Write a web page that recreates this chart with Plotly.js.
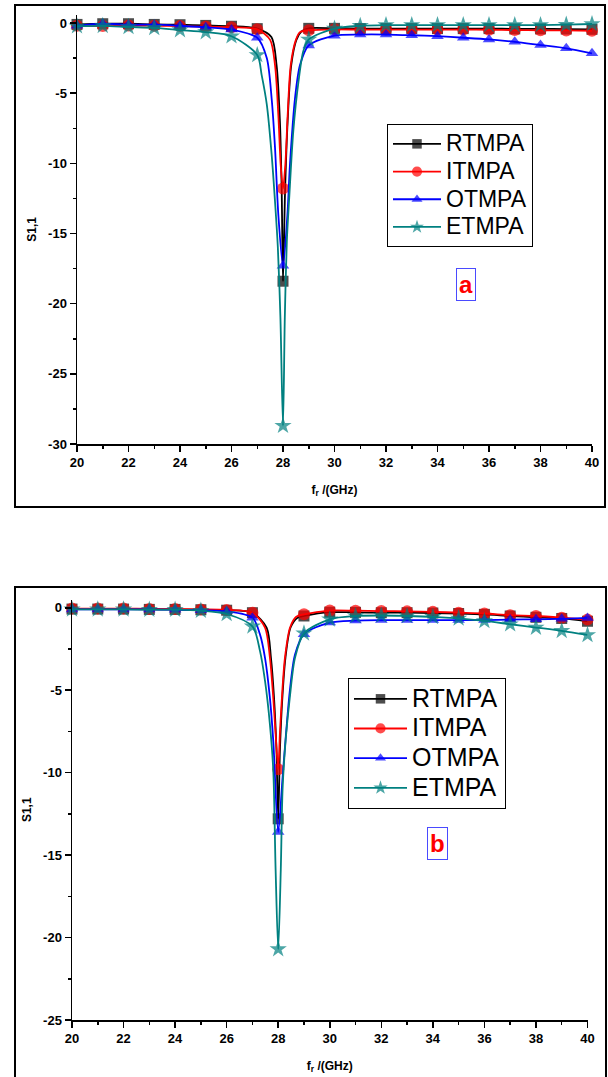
<!DOCTYPE html>
<html>
<head>
<meta charset="utf-8">
<script src="https://cdn.plot.ly/plotly-3.0.1.min.js"></script>
<style>html,body{margin:0;padding:0;background:#fff;}#chart{width:608px;height:1077px;}</style>
</head>
<body>
<div id="chart"></div>
<script>
// ---------- Data ----------
const seriesNames = ['RTMPA', 'ITMPA', 'OTMPA', 'ETMPA'];

// Panel a
const xRTMPA_a = [20,21,22,23,24,25,26,27,27.55,27.75,27.88,27.95,28,28.08,28.18,28.32,28.52,28.72,29,30,31,32,33,34,35,36,37,38,39,40];
const yRTMPA_a = [-0.1,-0.05,-0.05,-0.1,-0.12,-0.17,-0.23,-0.4,-1.0,-3.0,-7.0,-12.0,-18.4,-12.0,-7.0,-3.0,-1.2,-0.6,-0.38,-0.38,-0.4,-0.4,-0.4,-0.4,-0.4,-0.4,-0.42,-0.42,-0.43,-0.45];
const xITMPA_a = [20,21,22,23,24,25,26,27,27.5,27.69,27.82,27.91,28,28.09,28.18,28.3,28.5,28.66,29,30,31,32,33,34,35,36,37,38,39,40];
const yITMPA_a = [-0.2,-0.22,-0.18,-0.2,-0.22,-0.25,-0.3,-0.45,-1.2,-3.0,-6.6,-10.1,-11.8,-10.1,-6.6,-3.0,-1.2,-0.65,-0.52,-0.45,-0.47,-0.47,-0.47,-0.47,-0.47,-0.48,-0.5,-0.52,-0.53,-0.55];
const xOTMPA_a = [20,21,22,23,24,25,26,27,27.37,27.56,27.69,27.82,28,28.17,28.27,28.47,28.66,29,30,31,32,33,34,35,36,37,38,39,40];
const yOTMPA_a = [-0.2,-0.05,-0.12,-0.12,-0.2,-0.3,-0.47,-1.05,-2.5,-5.4,-8.9,-13.7,-17.3,-13.7,-10.1,-5.3,-3.0,-1.6,-0.9,-0.82,-0.82,-0.87,-0.94,-1.05,-1.17,-1.34,-1.57,-1.8,-2.16];
const xETMPA_a = [20,21,22,23,24,25,26,27,27.17,27.37,27.56,27.7,27.8,27.9,28,28.07,28.15,28.24,28.4,28.6,28.79,29,30,31,32,33,34,35,36,37,38,39,40];
const yETMPA_a = [-0.23,-0.2,-0.28,-0.35,-0.5,-0.65,-0.94,-2.28,-3.7,-5.8,-9.4,-13,-16,-21,-28.7,-21,-15.5,-12.5,-7.7,-4.2,-2.0,-1.17,-0.4,-0.2,-0.15,-0.15,-0.15,-0.15,-0.15,-0.15,-0.15,-0.12,-0.07];

// Panel b
const xRTMPA_b = [20,21,22,23,24,25,26,27,27.55,27.72,27.84,27.93,28,28.07,28.16,28.28,28.48,28.75,29,30,31,32,33,34,35,36,37,38,39,40];
const yRTMPA_b = [-0.08,-0.08,-0.08,-0.1,-0.1,-0.12,-0.15,-0.3,-1.2,-3.05,-5.5,-8.5,-12.8,-8.5,-5.5,-3.05,-1.2,-0.6,-0.5,-0.27,-0.28,-0.3,-0.3,-0.32,-0.35,-0.4,-0.5,-0.58,-0.65,-0.82];
const xITMPA_b = [20,21,22,23,24,25,26,27,27.49,27.68,27.81,27.91,28,28.07,28.16,28.26,28.46,28.7,29,30,31,32,33,34,35,36,37,38,39,40];
const yITMPA_b = [-0.05,-0.05,-0.05,-0.07,-0.08,-0.1,-0.13,-0.3,-1.2,-3.05,-5.5,-7.9,-9.8,-7.5,-5.05,-3.05,-1.2,-0.55,-0.4,-0.17,-0.18,-0.2,-0.22,-0.25,-0.3,-0.35,-0.45,-0.5,-0.6,-0.72];
const xOTMPA_b = [20,21,22,23,24,25,26,27,27.29,27.49,27.68,27.81,28,28.17,28.29,28.46,28.65,29,30,31,32,33,34,35,36,37,38,39,40];
const yOTMPA_b = [-0.1,-0.1,-0.1,-0.1,-0.12,-0.15,-0.22,-0.6,-1.6,-3.05,-5.5,-8.1,-13.6,-10.3,-7.9,-4.9,-2.85,-1.6,-0.9,-0.78,-0.75,-0.75,-0.75,-0.75,-0.75,-0.72,-0.7,-0.67,-0.62];
const xETMPA_b = [20,21,22,23,24,25,26,27,27.29,27.49,27.68,27.81,27.9,28,28.1,28.17,28.29,28.46,28.65,29,30,31,32,33,34,35,36,37,38,39,40];
const yETMPA_b = [-0.1,-0.1,-0.1,-0.12,-0.12,-0.18,-0.38,-1.13,-2.6,-4.45,-7.1,-9.9,-15.9,-20.7,-15.9,-11,-8.0,-5.3,-3.05,-1.55,-0.7,-0.5,-0.47,-0.5,-0.55,-0.65,-0.8,-1.0,-1.2,-1.4,-1.65];

// Tick labels
const xTickVals = [20,22,24,26,28,30,32,34,36,38,40];
const xTickText = ['20','22','24','26','28','30','32','34','36','38','40'];
const yTickVals_a = [0,-5,-10,-15,-20,-25,-30];
const yTickText_a = ['0','-5','-10','-15','-20','-25','-30'];
const yTickVals_b = [0,-5,-10,-15,-20,-25];
const yTickText_b = ['0','-5','-10','-15','-20','-25'];

// ---------- Styles ----------
const W = 608, H = 1077;
const FONT = 'Arial, "Liberation Sans", sans-serif';
const styles = {
  RTMPA: {color: '#000000', symbol: 'square', size: 11},
  ITMPA: {color: '#ff0000', symbol: 'circle', size: 12},
  OTMPA: {color: '#0000ff', symbol: 'triangle-up', size: 11},
  ETMPA: {color: '#008080', symbol: 'star', size: 13}
};

function mk(name, xs, ys, xa, ya, legend, nameSize) {
  const s = styles[name];
  return {
    type: 'scatter', mode: 'lines+markers',
    name: '<span style="font-size:' + nameSize + 'px">' + name + '</span>',
    x: xs, y: ys, xaxis: xa, yaxis: ya, legend: legend,
    line: {color: s.color, width: 1.8, shape: 'spline', smoothing: 0.8},
    marker: {symbol: s.symbol,
             // markers are shown only at the measured integer frequencies
             size: xs.map(v => Number.isInteger(v) ? s.size : 6),
             color: xs.map(v => Number.isInteger(v) ? s.color : 'rgba(0,0,0,0)'),
             line: {width: 0}},
    hoverinfo: 'skip', cliponaxis: false
  };
}

const data = [
  mk('RTMPA', xRTMPA_a, yRTMPA_a, 'x', 'y', 'legend', 23),
  mk('ITMPA', xITMPA_a, yITMPA_a, 'x', 'y', 'legend', 23),
  mk('OTMPA', xOTMPA_a, yOTMPA_a, 'x', 'y', 'legend', 23),
  mk('ETMPA', xETMPA_a, yETMPA_a, 'x', 'y', 'legend', 23),
  mk('RTMPA', xRTMPA_b, yRTMPA_b, 'x2', 'y2', 'legend2', 25),
  mk('ITMPA', xITMPA_b, yITMPA_b, 'x2', 'y2', 'legend2', 25),
  mk('OTMPA', xOTMPA_b, yOTMPA_b, 'x2', 'y2', 'legend2', 25),
  mk('ETMPA', xETMPA_b, yETMPA_b, 'x2', 'y2', 'legend2', 25)
];

const tickFont = {family: FONT, size: 13, weight: 'bold', color: '#000'};
const titleFont = {family: FONT, size: 12, weight: 'bold', color: '#000'};

function xAxis(domain, anchor) {
  return {
    domain: domain, anchor: anchor, range: [20, 40],
    tickmode: 'array', tickvals: xTickVals, ticktext: xTickText,
    showline: true, linecolor: '#000', linewidth: 1.5,
    ticks: 'outside', ticklen: 6, tickwidth: 1.5, tickcolor: '#000',
    minor: {dtick: 1, tick0: 20, ticks: 'outside', ticklen: 3, tickwidth: 1.5, tickcolor: '#000', showgrid: false},
    showgrid: false, zeroline: false, tickfont: tickFont,
    title: {text: 'f<sub>r</sub> /(GHz)', font: titleFont, standoff: 16}
  };
}
function yAxis(domain, anchor, range, vals, text) {
  return {
    domain: domain, anchor: anchor, range: range,
    tickmode: 'array', tickvals: vals, ticktext: text,
    showline: true, linecolor: '#000', linewidth: 1.5,
    ticks: 'outside', ticklen: 6, tickwidth: 1.5, tickcolor: '#000',
    minor: {dtick: 2.5, tick0: 0, ticks: 'outside', ticklen: 3, tickwidth: 1.5, tickcolor: '#000', showgrid: false},
    showgrid: false, zeroline: false, tickfont: tickFont,
    title: {text: 'S1,1', font: titleFont, standoff: 9}
  };
}

const legendBase = {
  xanchor: 'left', yanchor: 'top', bgcolor: 'rgba(255,255,255,0)',
  bordercolor: '#000', borderwidth: 1, tracegroupgap: 0
};

const layout = {
  width: W, height: H, margin: {l: 0, r: 0, t: 0, b: 0},
  paper_bgcolor: '#fff', plot_bgcolor: '#fff', showlegend: true,
  xaxis: xAxis([77/W, 592/W], 'y'),
  yaxis: yAxis([1 - 444/H, 1 - 14.6/H], 'x', [-30, 0.6], yTickVals_a, yTickText_a),
  xaxis2: xAxis([72/W, 587.5/W], 'y2'),
  yaxis2: yAxis([1 - 1020/H, 1 - 599.5/H], 'x2', [-25, 0.5], yTickVals_b, yTickText_b),
  legend: Object.assign({}, legendBase, {x: 387/W, y: 1 - 124/H, itemwidth: 48,
    font: {family: FONT, size: 19, color: '#000'}}),
  legend2: Object.assign({}, legendBase, {x: 348/W, y: 1 - 678/H, itemwidth: 53,
    font: {family: FONT, size: 20.5, color: '#000'}}),
  shapes: [
    {type: 'rect', xref: 'paper', yref: 'paper', x0: 15/W, x1: 605/W, y0: 1 - 507/H, y1: 1 - 5/H,
     line: {color: '#000', width: 2}, layer: 'below'},
    {type: 'rect', xref: 'paper', yref: 'paper', x0: 15/W, x1: 606/W, y0: -0.02, y1: 1 - 587/H,
     line: {color: '#000', width: 2}, layer: 'below'}
  ],
  annotations: [
    {text: 'a', xref: 'paper', yref: 'paper', x: 466/W, y: 1 - 284/H, xanchor: 'center', yanchor: 'middle',
     showarrow: false, font: {family: FONT, size: 24, weight: 'bold', color: '#ff0000'},
     bordercolor: '#4a4aff', borderwidth: 1, borderpad: 2},
    {text: 'b', xref: 'paper', yref: 'paper', x: 437/W, y: 1 - 843.5/H, xanchor: 'center', yanchor: 'middle',
     showarrow: false, font: {family: FONT, size: 24, weight: 'bold', color: '#ff0000'},
     bordercolor: '#4a4aff', borderwidth: 1, borderpad: 2}
  ]
};

Plotly.newPlot('chart', data, layout, {displayModeBar: false, staticPlot: true});
</script>
</body>
</html>
